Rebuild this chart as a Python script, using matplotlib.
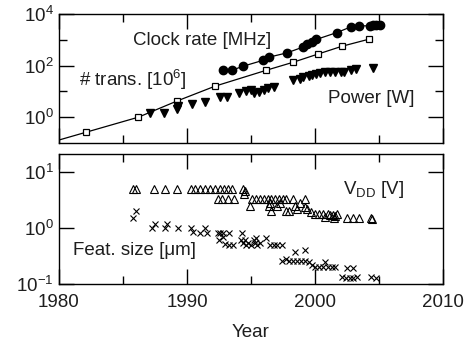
import numpy as np
import matplotlib
matplotlib.use("Agg")
import matplotlib.pyplot as plt
from matplotlib.ticker import FixedLocator, NullFormatter, LogFormatterSciNotation

plt.rcParams['font.family'] = ['Liberation Sans', 'DejaVu Sans']
plt.rcParams['mathtext.fontset'] = 'custom'
plt.rcParams['mathtext.rm'] = 'Liberation Sans'
plt.rcParams['mathtext.it'] = 'Liberation Sans:italic'

# ---------------- data ----------------
trans_years = [1982.1, 1986.2, 1989.2, 1992.2, 1996.2, 1998.3, 2000.2, 2002.1, 2004.2]
trans_vals = [0.26, 1.0, 4.2, 16, 66, 135, 276, 560, 1050]

clock_years = [1992.8, 1993.5, 1994.4, 1995.9, 1996.4, 1997.8, 1999.1, 1999.4, 1999.8,
               2000.1, 2001.7, 2002.8, 2003.4, 2004.3, 2004.55, 2004.8, 2005.1]
clock_vals = [66, 66, 95, 158, 212, 310, 530, 660, 810,
              1030, 1900, 3160, 3470, 3470, 3700, 3700, 3900]

power_years = [1987.1, 1988.2, 1989.2, 1989.3, 1990.4, 1991.4, 1992.6, 1993.1, 1994.1, 1994.6,
               1995.0, 1995.2, 1995.6, 1996.0, 1996.3, 1996.8, 1998.3, 1998.8, 1999.1, 1999.5,
               1999.8, 2000.1, 2000.4, 2000.8, 2001.2, 2001.6, 2002.0, 2002.3, 2002.8, 2003.2,
               2004.5]
power_vals = [1.4, 1.5, 2.0, 2.7, 3.3, 3.8, 5.8, 5.8, 8.3, 10,
              11, 8.3, 9.6, 11, 13, 15, 27, 30, 35, 39,
              43, 46, 50, 54, 54, 54, 56, 58, 66, 77,
              84]

vdd_years = [1985.8, 1986.0, 1987.4, 1988.3, 1989.2, 1990.3, 1990.6, 1991.0, 1991.4, 1991.8,
             1992.2, 1992.6, 1992.9, 1993.2, 1993.5, 1994.4, 1994.5, 1994.45,
             1992.4, 1992.7, 1993.2, 1993.7,
             1994.9,
             1995.1, 1995.4, 1995.7, 1996.0, 1996.3, 1996.6, 1996.9, 1997.2, 1997.5, 1997.7,
             1998.3, 1999.2,
             1996.4, 1997.0, 1996.6, 1997.7, 1996.5, 1997.3,
             1998.0, 1998.4, 1998.8, 1999.2, 1999.4, 1998.6, 1999.7, 2000.0, 2000.3, 2000.6,
             2001.0, 2001.2, 2001.4, 2001.6, 2001.7, 2000.8, 2001.5,
             2002.5, 2003.0, 2003.4, 2004.4, 2004.45]
vdd_vals = [5, 5, 5, 5, 5, 5, 5, 5, 5, 5,
            5, 5, 5, 5, 5, 5, 4.5, 4.0,
            3.3, 3.3, 3.3, 3.3,
            2.5,
            3.3, 3.3, 3.3, 3.3, 3.3, 3.3, 3.3, 3.3, 3.3, 3.3,
            3.3, 3.3,
            2.5, 2.5, 2.0, 2.0, 2.8, 2.8,
            2.0, 2.5, 2.8, 2.4, 2.2, 2.2, 1.9, 1.8, 1.8, 1.8,
            1.8, 1.7, 1.7, 1.65, 1.75, 1.6, 1.5,
            1.5, 1.5, 1.5, 1.5, 1.45]

feat_years = [1985.8, 1986.0, 1987.3, 1987.5, 1988.3, 1988.4, 1989.3, 1990.3, 1990.5, 1991.0,
              1991.4, 1991.6, 1992.4, 1992.6, 1992.8, 1993.3, 1992.5, 1992.8, 1993.0, 1993.3,
              1993.6, 1994.3, 1994.2, 1994.4, 1994.5, 1994.6, 1994.8, 1995.0, 1995.2, 1995.3,
              1995.4, 1995.5, 1995.7, 1996.2, 1996.5, 1996.8, 1997.0, 1997.4, 1997.4, 1997.7,
              1998.0, 1998.3, 1998.6, 1998.9, 1999.2, 1999.5, 1998.4, 1999.2, 1999.8, 2000.0,
              2000.3, 2000.6, 2000.8, 2001.0, 2001.3, 2001.6, 2002.5, 2003.0, 2002.1, 2002.4,
              2002.7, 2003.0, 2003.3, 2004.4, 2004.8]
feat_vals = [1.5, 2.0, 1.0, 1.2, 1.0, 1.2, 1.0, 1.0, 0.85, 0.8,
             1.0, 0.8, 0.8, 0.8, 0.8, 0.8, 0.6, 0.7, 0.52, 0.5,
             0.5, 0.8, 0.6, 0.55, 0.6, 0.5, 0.55, 0.5, 0.6, 0.55,
             0.67, 0.5, 0.55, 0.67, 0.5, 0.5, 0.5, 0.5, 0.26, 0.28,
             0.26, 0.26, 0.26, 0.26, 0.26, 0.25, 0.37, 0.40, 0.22, 0.2,
             0.2, 0.2, 0.25, 0.2, 0.2, 0.2, 0.19, 0.19, 0.135, 0.13,
             0.13, 0.13, 0.135, 0.135, 0.13]

year_ticks = [1980, 1990, 2000, 2010]
year_minor = [1985, 1995, 2005]

# ---------------- figure ----------------
fig = plt.figure(figsize=(4.67, 3.48), dpi=100)
ax1 = fig.add_axes([0.1263, 0.5891, 0.8223, 0.3707])
ax2 = fig.add_axes([0.1263, 0.1839, 0.8223, 0.3736])

txt = '#1e1e1e'
fs = 13.5

# transistor line: polyline through squares, first segment extended back to 1980
ly = np.log10(trans_vals)
slope0 = (ly[1] - ly[0]) / (trans_years[1] - trans_years[0])
start_y = 10 ** (ly[0] - slope0 * (trans_years[0] - 1980))
ax1.plot([1980] + trans_years, [start_y] + trans_vals, color='black', lw=0.9, zorder=2)
ax1.plot(trans_years, trans_vals, ls='none', marker='s', ms=5, mfc='white', mec='black', mew=0.9, zorder=3)

ax1.plot(clock_years, clock_vals, color='black', lw=0.9, marker='o', ms=6, mfc='black', mec='black', zorder=3)
ax1.plot(power_years, power_vals, ls='none', marker='v', ms=6, mfc='black', mec='black', zorder=3)

ax2.plot(vdd_years, vdd_vals, ls='none', marker='^', ms=5.5, mfc='none', mec='black', mew=0.8)
ax2.plot(feat_years, feat_vals, ls='none', marker='x', ms=4, mec='black', mew=0.8)

ax1.set_yscale('log')
ax2.set_yscale('log')
for ax in (ax1, ax2):
    ax.set_xlim(1980, 2010)
    ax.xaxis.set_major_locator(FixedLocator(year_ticks))
    ax.xaxis.set_minor_locator(FixedLocator(year_minor))
    ax.tick_params(which='both', direction='in', top=True, right=True, width=1.0,
                   labelsize=fs, colors='black', labelcolor=txt)
    ax.tick_params(which='major', length=10.5)
    ax.tick_params(which='minor', length=5.5)
    ax.tick_params(axis='x', pad=7.5)
    ax.tick_params(axis='y', pad=4)
    for s in ax.spines.values():
        s.set_linewidth(1.0)

ax1.set_ylim(0.1, 1e4)
ax1.yaxis.set_major_locator(FixedLocator([1, 100, 1e4]))
ax1.yaxis.set_minor_locator(FixedLocator([10, 1000]))
ax1.yaxis.set_major_formatter(LogFormatterSciNotation())
ax1.yaxis.set_minor_formatter(NullFormatter())
ax1.tick_params(axis='x', labelbottom=False)

ax2.set_ylim(0.1, 21)
ax2.yaxis.set_major_locator(FixedLocator([0.1, 1, 10]))
ax2.yaxis.set_minor_locator(FixedLocator([]))
ax2.yaxis.set_major_formatter(LogFormatterSciNotation())
ax2.set_xlabel('Year', fontsize=fs, color=txt, labelpad=9)

ax1.text(1985.8, 950, 'Clock rate [MHz]', fontsize=fs, color=txt, ha='left', va='center')
ax1.text(1981.6, 27, '# trans. [10$^{6}$]', fontsize=fs, color=txt, ha='left', va='center')
ax1.text(2001.0, 5.5, 'Power [W]', fontsize=fs, color=txt, ha='left', va='center')
ax2.text(2002.2, 4.8, 'V$_{\\mathrm{DD}}$ [V]', fontsize=fs, color=txt, ha='left', va='center')
ax2.text(1981.1, 0.40, 'Feat. size [\u03bcm]', fontsize=fs, color=txt, ha='left', va='center')

fig.savefig('out.png', dpi=100)
